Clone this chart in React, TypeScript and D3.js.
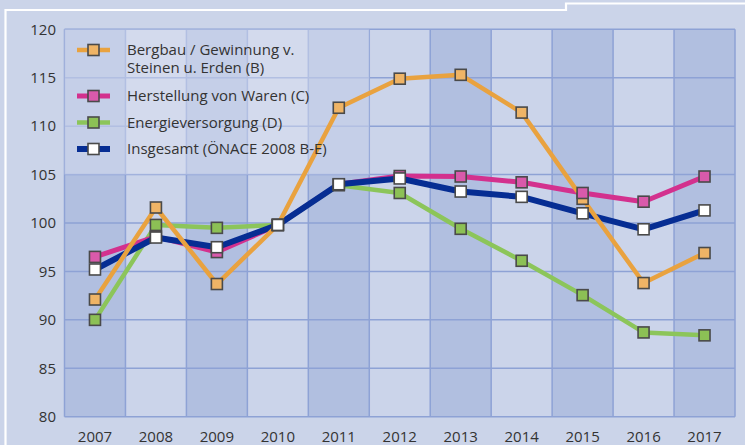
import React from "react";
import * as d3 from "d3";

const years = [2007, 2008, 2009, 2010, 2011, 2012, 2013, 2014, 2015, 2016, 2017];
const yTicks = [80, 85, 90, 95, 100, 105, 110, 115, 120];

const bergbau = [92.1, 101.6, 93.7, 99.8, 111.9, 114.9, 115.3, 111.4, 102.5, 93.8, 96.9];
const herstellung = [96.5, 98.6, 97.0, 99.8, 104.0, 104.85, 104.8, 104.2, 103.1, 102.2, 104.8];
const energie = [90.0, 99.8, 99.5, 99.8, 103.9, 103.1, 99.4, 96.1, 92.55, 88.7, 88.4];
const insgesamt = [95.2, 98.5, 97.5, 99.8, 104.0, 104.6, 103.25, 102.7, 101.0, 99.35, 101.3];

const legendLabels = [
  ["Bergbau / Gewinnung v.", "Steinen u. Erden (B)"],
  ["Herstellung von Waren (C)"],
  ["Energieversorgung (D)"],
  ["Insgesamt (ÖNACE 2008 B-E)"],
];

const W = 745;
const H = 445;
const FONT = "'Open Sans', sans-serif";

export default function App() {
  const left = 64.5;
  const right = 735;
  const top = 29.3;
  const bottom = 416.7;

  const x = d3.scaleBand<number>().domain(years).range([left, right]).padding(0);
  const y = d3.scaleLinear().domain([80, 120]).range([bottom, top]);
  const cx = (yr: number) => (x(yr) as number) + x.bandwidth() / 2;

  const series = [
    { name: "energie", data: energie, line: "#8cc55a", fill: "#8cc055", lw: 4.5 },
    { name: "herstellung", data: herstellung, line: "#d3318e", fill: "#d95aab", lw: 5 },
    { name: "insgesamt", data: insgesamt, line: "#062d93", fill: "#ffffff", lw: 6 },
    { name: "bergbau", data: bergbau, line: "#e9a23f", fill: "#efb466", lw: 4.5 },
  ];
  const markerOrder = ["bergbau", "energie", "herstellung", "insgesamt"];

  const lineGen = (data: number[]) =>
    d3
      .line<number>()
      .x((_, i) => cx(years[i]))
      .y((d) => y(d))(data) as string;

  const legendItems = [
    { s: series[3], labels: legendLabels[0], cy: 50 },
    { s: series[1], labels: legendLabels[1], cy: 96 },
    { s: series[0], labels: legendLabels[2], cy: 122.5 },
    { s: series[2], labels: legendLabels[3], cy: 149 },
  ];

  const ms = 11;

  return (
    <div style={{ position: "absolute", left: 0, top: 0 }}>
      <svg width={W} height={H} style={{ display: "block" }}>
        <rect x={0} y={0} width={W} height={H} fill="#cbd4e9" />
        <path
          d={`M5.5,${H} L5.5,10 L566,10 L566,3.5 L${W},3.5`}
          fill="none"
          stroke="#ffffff"
          strokeWidth={2.2}
        />
        {years.map((yr, i) => (
          <rect
            key={yr}
            x={x(yr)}
            y={top}
            width={x.bandwidth()}
            height={bottom - top}
            fill={i % 2 === 0 ? "#b1bfe0" : "#cbd4ea"}
          />
        ))}
        {yTicks.map((t) => (
          <line key={t} x1={left} x2={right} y1={y(t)} y2={y(t)} stroke="#8ea2d5" strokeWidth={1.5} />
        ))}
        {years.map((yr) => (
          <line key={yr} x1={x(yr)} x2={x(yr)} y1={top} y2={bottom} stroke="#8ea2d5" strokeWidth={1.5} />
        ))}
        <line x1={right} x2={right} y1={top} y2={bottom} stroke="#8ea2d5" strokeWidth={1.5} />
        <rect x={left} y={top} width={x(2012)! - left} height={y(105) - top} fill="#dde3f2" opacity={0.45} />
        {yTicks.map((t) => (
          <text key={t} x={56} y={y(t)} dy="0.35em" textAnchor="end" fontFamily={FONT} fontSize={15} fill="#333">
            {t}
          </text>
        ))}
        {years.map((yr) => (
          <text key={yr} x={cx(yr)} y={437} dy="0.35em" textAnchor="middle" fontFamily={FONT} fontSize={15} fill="#333">
            {yr}
          </text>
        ))}
        {series.map((s) => (
          <path key={s.name} d={lineGen(s.data)} fill="none" stroke={s.line} strokeWidth={s.lw} strokeLinejoin="round" />
        ))}
        {markerOrder.map((n) => {
          const s = series.find((q) => q.name === n)!;
          return (
            <g key={n}>
              {s.data.map((v, i) => (
                <rect
                  key={i}
                  x={cx(years[i]) - ms / 2}
                  y={y(v) - ms / 2}
                  width={ms}
                  height={ms}
                  fill={s.fill}
                  stroke="#4a4a4a"
                  strokeWidth={1.6}
                />
              ))}
            </g>
          );
        })}
        {legendItems.map((it, k) => (
          <g key={k}>
            <line x1={77} x2={110} y1={it.cy} y2={it.cy} stroke={it.s.line} strokeWidth={it.s.lw} />
            <rect x={93.5 - ms / 2} y={it.cy - ms / 2} width={ms} height={ms} fill={it.s.fill} stroke="#4a4a4a" strokeWidth={1.6} />
            {it.labels.map((l, j) => (
              <text key={j} x={127} y={it.cy + j * 18} dy="0.35em" fontFamily={FONT} fontSize={15} fill="#333">
                {l}
              </text>
            ))}
          </g>
        ))}
      </svg>
    </div>
  );
}
